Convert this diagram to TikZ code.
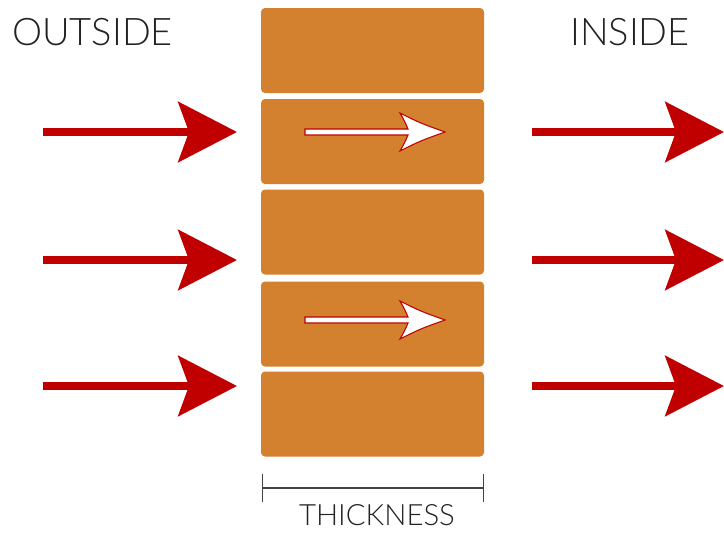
\documentclass[tikz,border=0pt]{standalone}
\usepackage{fontspec}
\setmainfont{Lato Light}
\usetikzlibrary{arrows.meta}
\definecolor{brickclr}{HTML}{D3802F}
\definecolor{heat}{HTML}{C00000}
\definecolor{ink}{HTML}{222222}
\tikzset{
  brick/.style={fill=brickclr, rounded corners=3pt, minimum width=167.25pt, minimum height=63.75pt, inner sep=0pt},
  heatarrow/.style={heat, line width=6pt, -{Stealth[length=44pt, width=45pt, inset=8pt]}},
  sidelabel/.style={text=ink, inner sep=0pt, font=\fontsize{28.5}{28.5}\selectfont},
  flow/.pic={
    \filldraw[fill=white, draw=heat, line width=0.8pt, line join=miter]
      (0,3) -- (103,3) .. controls (100,10) .. (95,19) .. controls (115,9) .. (140,0)
      .. controls (115,-9) .. (95,-19) .. controls (100,-10) .. (103,-3) -- (0,-3) -- cycle;
  }
}
\begin{document}
\begin{tikzpicture}[x=0.75pt, y=-0.75pt]
\useasboundingbox (0,0) rectangle (724,533);
% wall
\node[brick] (b1) at (372.5,50.5) {};
\node[brick] (b2) at (372.5,141.5) {};
\node[brick] (b3) at (372.5,232) {};
\node[brick] (b4) at (372.5,324) {};
\node[brick] (b5) at (372.5,414) {};
% labels
\node[sidelabel, anchor=west] (out) at (12,32) {OUTSIDE};
\node[sidelabel] (in) at (630,32) {INSIDE};
% heat coming in and going out
\coordinate (o1) at (43,132);  \coordinate (w1) at (237,132);
\coordinate (o2) at (43,260);  \coordinate (w2) at (237,260);
\coordinate (o3) at (43,386);  \coordinate (w3) at (237,386);
\coordinate (e1) at (532,132); \coordinate (i1) at (724,132);
\coordinate (e2) at (532,260); \coordinate (i2) at (724,260);
\coordinate (e3) at (532,386); \coordinate (i3) at (724,386);
\draw[heatarrow] (o1) -- (w1);
\draw[heatarrow] (o2) -- (w2);
\draw[heatarrow] (o3) -- (w3);
\draw[heatarrow] (e1) -- (i1);
\draw[heatarrow] (e2) -- (i2);
\draw[heatarrow] (e3) -- (i3);
% conduction through the bricks
\pic at (305,132) {flow};
\pic at (305,320) {flow};
% thickness
\coordinate (tl) at (262,488);
\coordinate (tr) at (484,488);
\draw[ink!85, line width=1.1pt, {Bar[width=21pt]}-{Bar[width=21pt]}] (tl) -- (tr);
\node[text=ink, inner sep=0pt, font=\fontsize{22}{22}\selectfont] (thick) at (377,515) {THICKNESS};
\end{tikzpicture}
\end{document}
